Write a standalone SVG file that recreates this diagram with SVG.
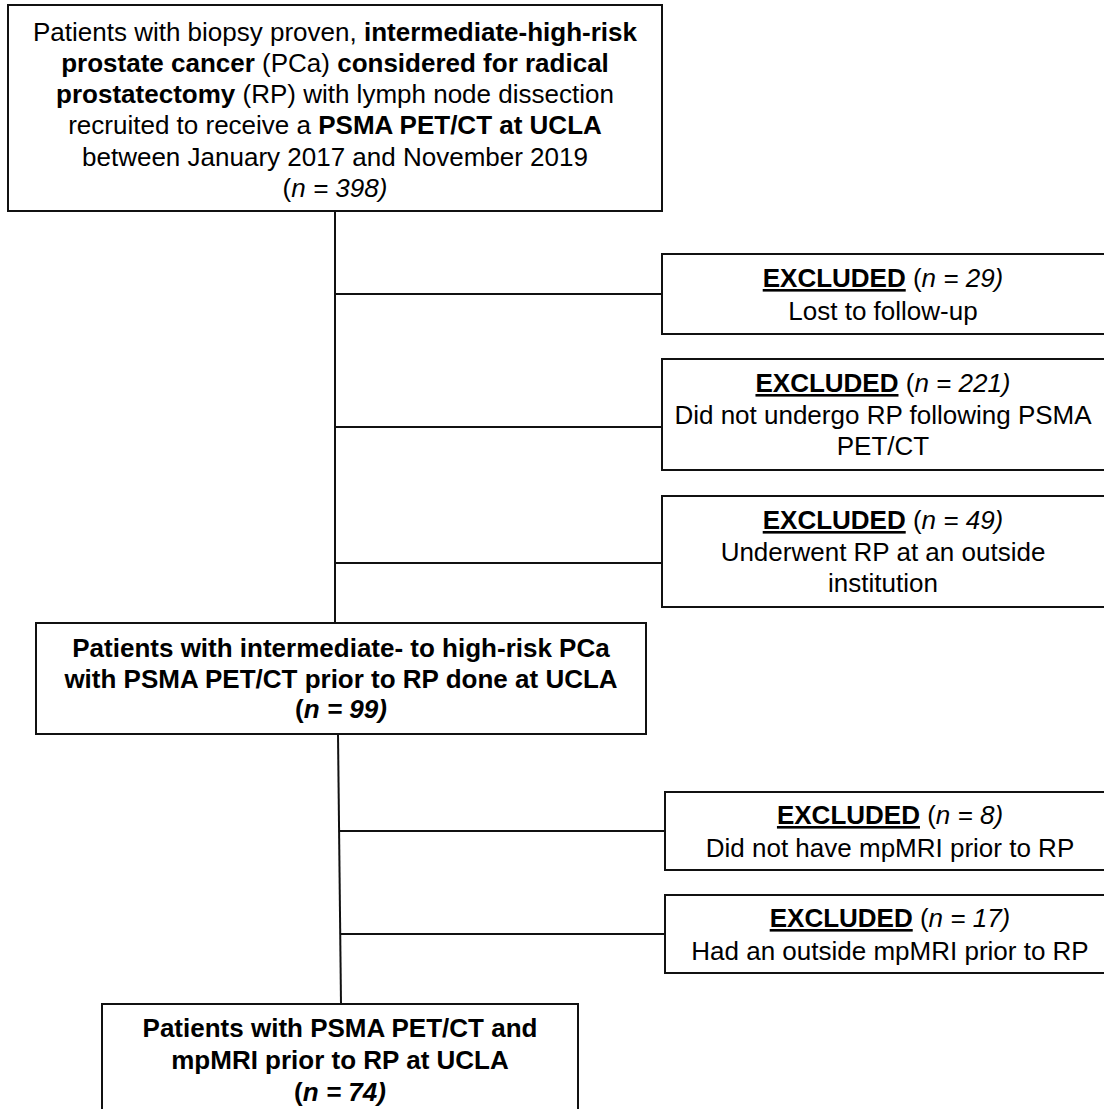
<svg xmlns="http://www.w3.org/2000/svg" width="1104" height="1109" viewBox="0 0 1104 1109">
<style>
.box{fill:#fff;stroke:#111;stroke-width:2}
.ln{stroke:#111;stroke-width:2;fill:none}
text{font-family:"Liberation Sans",Arial,sans-serif;font-size:26px;fill:#000;text-anchor:middle}
.b{font-weight:bold}
.i{font-style:italic}
.u{text-decoration:underline}
</style>
<rect width="1104" height="1109" fill="#fff"/>
<g id="connectors">
<line class="ln" x1="335" y1="211" x2="335" y2="623"/>
<line class="ln" x1="335" y1="294" x2="662" y2="294"/>
<line class="ln" x1="335" y1="427" x2="662" y2="427"/>
<line class="ln" x1="335" y1="563" x2="662" y2="563"/>
<line class="ln" x1="338" y1="734" x2="341" y2="1004"/>
<line class="ln" x1="339.1" y1="831" x2="665" y2="831"/>
<line class="ln" x1="340.3" y1="934" x2="665" y2="934"/>
</g>
<g id="n_start">
<rect class="box" x="8" y="5" width="654" height="206"/>
<text x="335" y="41">Patients with biopsy proven, <tspan class="b">intermediate-high-risk</tspan></text>
<text x="335" y="72"><tspan class="b">prostate cancer</tspan> (PCa) <tspan class="b">considered for radical</tspan></text>
<text x="335" y="103"><tspan class="b">prostatectomy</tspan> (RP) with lymph node dissection</text>
<text x="335" y="134">recruited to receive a <tspan class="b">PSMA PET/CT at UCLA</tspan></text>
<text x="335" y="166">between January 2017 and November 2019</text>
<text x="335" y="197">(<tspan class="i">n = 398)</tspan></text>
</g>
<g id="n_ex1">
<rect class="box" x="662" y="254" width="446" height="80"/>
<text x="883" y="287"><tspan class="b u">EXCLUDED</tspan> (<tspan class="i">n = 29)</tspan></text>
<text x="883" y="320">Lost to follow-up</text>
</g>
<g id="n_ex2">
<rect class="box" x="662" y="359" width="446" height="111"/>
<text x="883" y="392"><tspan class="b u">EXCLUDED</tspan> (<tspan class="i">n = 221)</tspan></text>
<text x="883" y="424">Did not undergo RP following PSMA</text>
<text x="883" y="455">PET/CT</text>
</g>
<g id="n_ex3">
<rect class="box" x="662" y="496" width="446" height="111"/>
<text x="883" y="529"><tspan class="b u">EXCLUDED</tspan> (<tspan class="i">n = 49)</tspan></text>
<text x="883" y="561">Underwent RP at an outside</text>
<text x="883" y="592">institution</text>
</g>
<g id="n_mid">
<rect class="box" x="36" y="623" width="610" height="111"/>
<text class="b" x="341" y="657">Patients with intermediate- to high-risk PCa</text>
<text class="b" x="341" y="688">with PSMA PET/CT prior to RP done at UCLA</text>
<text class="b" x="341" y="718">(<tspan class="i">n = 99)</tspan></text>
</g>
<g id="n_ex4">
<rect class="box" x="665" y="792" width="446" height="78"/>
<text x="890" y="824"><tspan class="b u">EXCLUDED</tspan> (<tspan class="i">n = 8)</tspan></text>
<text x="890" y="857">Did not have mpMRI prior to RP</text>
</g>
<g id="n_ex5">
<rect class="box" x="665" y="895" width="446" height="78"/>
<text x="890" y="927"><tspan class="b u">EXCLUDED</tspan> (<tspan class="i">n = 17)</tspan></text>
<text x="890" y="960">Had an outside mpMRI prior to RP</text>
</g>
<g id="n_final">
<rect class="box" x="102" y="1004" width="476" height="110"/>
<text class="b" x="340" y="1037">Patients with PSMA PET/CT and</text>
<text class="b" x="340" y="1069">mpMRI prior to RP at UCLA</text>
<text class="b" x="340" y="1101">(<tspan class="i">n = 74)</tspan></text>
</g>
</svg>
